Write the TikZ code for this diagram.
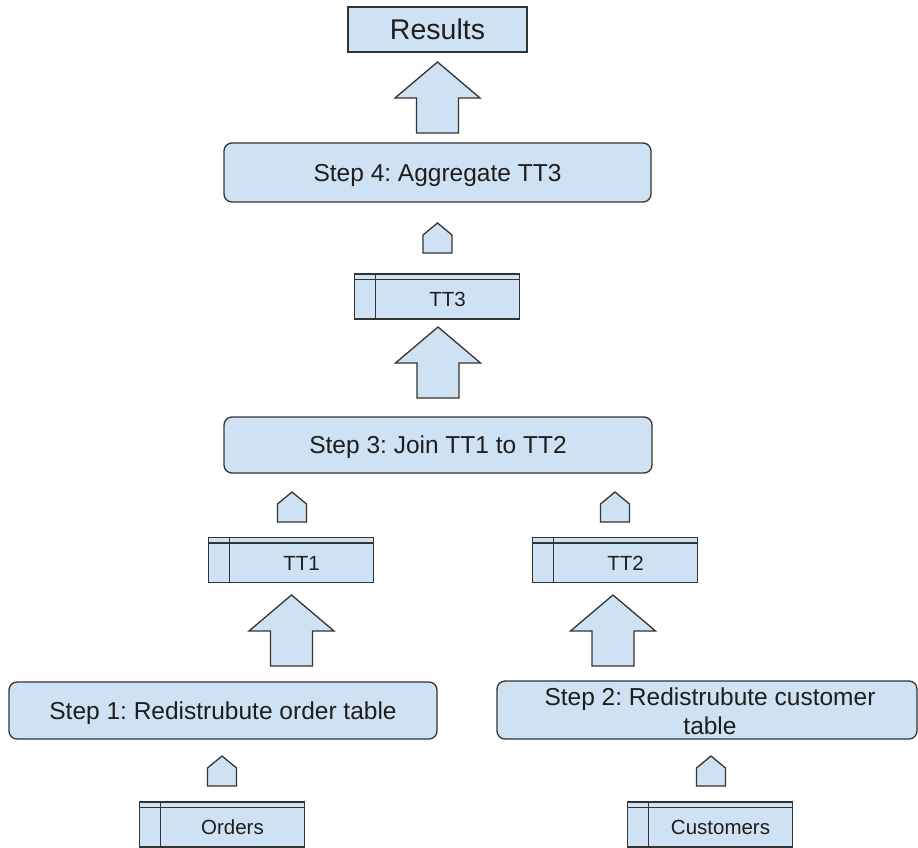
\documentclass[tikz,border=0pt]{standalone}
\usepackage{fontspec}
\setmainfont{Liberation Sans}
\frenchspacing
\definecolor{boxfill}{HTML}{CFE2F3}
\definecolor{edge}{HTML}{333333}
\definecolor{ink}{HTML}{1E1E1E}

% table symbol: outer frame, header rule and key column rule
\newcommand\dbtable[4]{%
  \node[tablebox] (#1) at (#2,#3) {};
  \draw[edgeline] ([yshift=-5.5pt]#1.north west) -- ([yshift=-5.5pt]#1.north east);
  \draw[edgeline] ([xshift=21pt]#1.north west) -- ([xshift=21pt]#1.south west);
  \node[tabletext, anchor=base] (#1-label) at ([xshift=10.5pt,yshift=12.5pt]#1.south) {#4};
}
% wide block arrow pointing up, given its tip
\newcommand\bigup[2]{%
  \draw[blockarrow] (#1,#2) -- ++(42.5,36) -- ++(-21.5,0) -- ++(0,35)
    -- ++(-42,0) -- ++(0,-35) -- ++(-21.5,0) -- cycle;
}
% small pentagon arrow pointing up, given its tip
\newcommand\smallup[2]{%
  \draw[blockarrow] (#1,#2) -- ++(14.5,12) -- ++(0,18) -- ++(-29,0)
    -- ++(0,-18) -- cycle;
}

\begin{document}
\begin{tikzpicture}[x=1pt,y=-1pt,
  every node/.style={inner sep=0pt, outer sep=0pt},
  edgeline/.style={draw=edge, line width=1.3pt},
  box/.style={edgeline, fill=boxfill},
  blockarrow/.style={box, line join=miter},
  resultbox/.style={box, text=ink, font=\fontsize{28.5}{34}\selectfont,
    text height=20.4pt, text depth=0pt},
  stepbox/.style={box, rounded corners=8pt, text=ink,
    font=\fontsize{24.5}{29}\selectfont, text height=17.5pt, text depth=0pt},
  steptext/.style={text=ink, font=\fontsize{24.5}{29}\selectfont},
  tablebox/.style={box, minimum width=165pt, minimum height=45pt},
  tabletext/.style={text=ink, font=\fontsize{20.5}{24}\selectfont},
]
\useasboundingbox (0,0) rectangle (918,848);

% output
\node[resultbox, minimum width=179pt, minimum height=45pt] (results) at (437.5,29.5) {Results};
\bigup{437.5}{62}

% aggregation
\node[stepbox, minimum width=427pt, minimum height=59pt] (step4) at (437.5,172.5) {Step 4: Aggregate TT3};
\smallup{437.5}{223}
\dbtable{tt3}{437}{296.5}{TT3}
\bigup{438}{327}

% join
\node[stepbox, minimum width=428pt, minimum height=56pt] (step3) at (438,445) {Step 3: Join TT1 to TT2};
\smallup{292}{492}
\smallup{615}{492}
\dbtable{tt1}{291}{560}{TT1}
\dbtable{tt2}{615}{560}{TT2}
\bigup{291.5}{595}
\bigup{613}{595}

% redistribution
\node[stepbox, minimum width=428pt, minimum height=57pt] (step1) at (223,710.5) {Step 1: Redistrubute order table};
\node[stepbox, minimum width=420pt, minimum height=58pt] (step2) at (707,710) {};
\node[steptext, align=center, anchor=base] (step2-label) at (710,734) {Step 2: Redistrubute customer\\table};
\smallup{222}{756}
\smallup{711}{756}

% source tables
\dbtable{orders}{222}{824.5}{Orders}
\dbtable{customers}{710}{824.5}{Customers}
\end{tikzpicture}
\end{document}
